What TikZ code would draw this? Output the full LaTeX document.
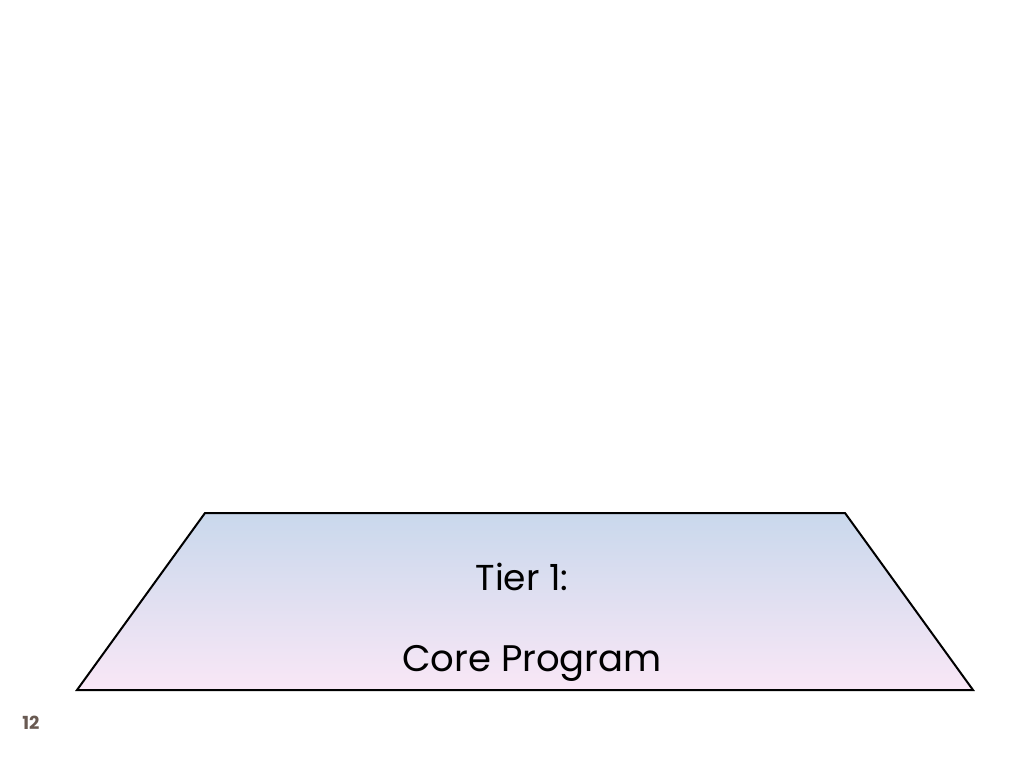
\documentclass[tikz,border=0pt]{standalone}
\usepackage{fontspec}
\setmainfont{Poppins}
\begin{document}
\begin{tikzpicture}[x=1pt,y=-1pt,
  tier/.style={draw=black,line width=2pt,top color=tiertop,bottom color=tierbot},
  lbl/.style={inner sep=0pt,anchor=base,text=black}]
\definecolor{tiertop}{RGB}{201,216,236}
\definecolor{tierbot}{RGB}{249,231,246}
\definecolor{pnum}{RGB}{105,90,82}
\useasboundingbox[fill=white] (0,0) rectangle (1024,768);
\coordinate (tl) at (205,513);
\coordinate (tr) at (845,513);
\coordinate (br) at (973,690);
\coordinate (bl) at (77,690);
\path[tier] (tl) -- (tr) -- (br) -- (bl) -- cycle;
\node[lbl,font=\fontsize{36}{40}\selectfont] (t1) at (522,590) {Tier 1:};
\node[lbl,font=\fontsize{37}{41}\selectfont] (cp) at (532,671) {Core Program};
\node[lbl,font=\fontsize{18}{20}\selectfont\bfseries,text=pnum] (pg) at (31,729) {12};
\end{tikzpicture}
\end{document}
